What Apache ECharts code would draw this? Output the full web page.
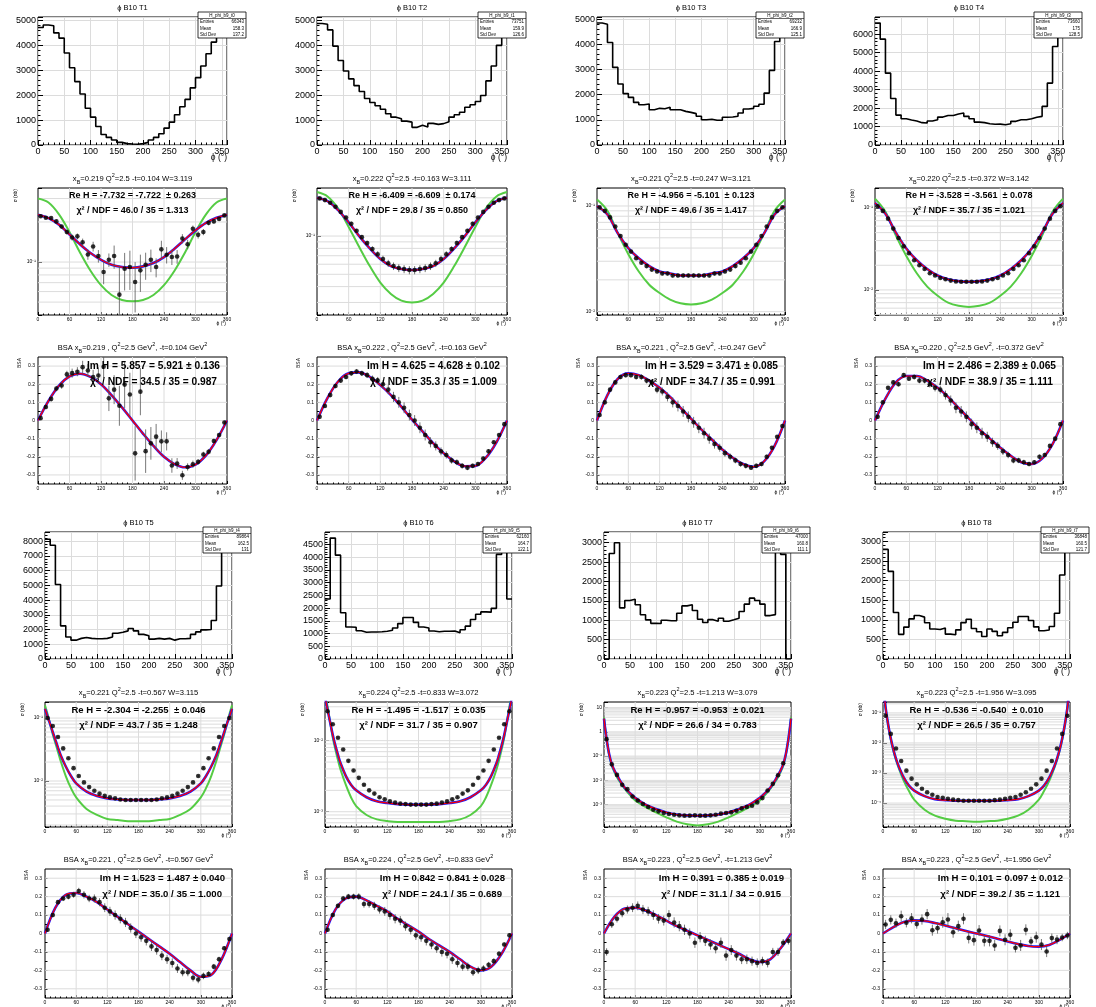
<!DOCTYPE html>
<html><head><meta charset="utf-8">
<script src="https://cdn.jsdelivr.net/npm/echarts@6/dist/echarts.min.js"></script>
<style>html,body{margin:0;padding:0;background:#fff}#c{width:1096px;height:1007px}</style>
</head><body><div id="c"></div>
<script>
// ---------------- DATA ----------------
const EDGES = [0,10,20,30,40,50,60,70,80,90,100,110,120,130,140,150,160,170,180,190,200,210,220,230,240,250,260,270,280,290,300,310,320,330,340,350];
const CENTERS = [5,15,25,35,45,55,65,75,85,95,105,115,125,135,145,155,165,175,185,195,205,215,225,235,245,255,265,275,285,295,305,315,325,335,345,355];
const C20 = [0,20,40,60,80,100,120,140,160,180,200,220,240,260,280,300,320,340,360];
const CEDGE = [0,2,5,10,15,20,25,30,40,50,60,80,100,120,140,160,180,200,220,240,260,280,300,310,320,330,335,340,345,350,355,358,360];

// histograms (counts per 10 deg bin)
const H_T1 = [4730,4830,4800,4510,4300,3700,3110,2550,2050,1480,1120,745,425,305,200,105,55,40,30,55,105,200,305,450,680,920,1220,1540,1835,2300,2710,3180,3670,4140,4500,4900];
const H_T2 = [4890,4860,4630,3980,3400,2980,2660,2390,2150,1870,1710,1580,1440,1260,1120,1060,960,920,710,790,720,870,830,860,940,1120,1220,1320,1520,1620,1750,1990,2580,3180,4010,4850];
const H_T3 = [4840,4790,4070,3080,2420,2040,1890,1690,1600,1630,1400,1455,1440,1495,1400,1400,1335,1295,1245,1140,1005,1020,980,980,1100,1110,1140,1270,1430,1455,1535,1615,2060,2960,4110,4830];
const H_T4 = [6600,5730,3890,2520,1620,1420,1350,1300,1210,1190,1300,1370,1510,1600,1600,1680,1730,1550,1420,1240,1210,1150,1120,1130,1100,1150,1280,1370,1370,1420,1500,1550,2090,3350,5330,6400];
const H_T5 = [8130,7720,5060,2250,1490,1280,1400,1460,1400,1370,1370,1400,1490,1750,1820,1910,2070,1910,1670,1580,1350,1400,1350,1400,1280,1370,1370,1400,1670,1840,1980,2000,2610,4950,8200,8000];
const H_T6 = [2360,4750,4080,1815,1260,1245,1110,1050,1060,1060,1070,1090,1130,1220,1390,1630,1630,1440,1260,1220,1100,1070,1090,1090,1100,1030,1150,1290,1550,1760,1850,1840,1990,4110,4700,2360];
const H_T7 = [0,2720,3000,1320,1510,1540,1400,1140,1010,920,915,1000,985,990,1180,1370,1400,1250,1025,940,1015,975,1050,975,1010,1050,1225,1415,1570,1510,1415,1120,1145,3120,2700,0];
const H_T8 = [2800,2240,1190,630,815,1025,1110,1070,925,765,755,790,635,620,745,930,1015,780,695,575,765,705,595,680,800,940,1085,1085,985,820,720,740,830,1170,2145,3090];
const H_YMAX = [5150,5150,5080,6930,8620,4990,3276,3245];
const H_YINT = [1000,1000,1000,1000,1000,500,500,500];
const H_TITLES = ['ϕ B10 T1','ϕ B10 T2','ϕ B10 T3','ϕ B10 T4','ϕ B10 T5','ϕ B10 T6','ϕ B10 T7','ϕ B10 T8'];
const ST_NAME = ['H_phi_b9_t0','H_phi_b9_t1','H_phi_b9_t2','H_phi_b9_t3','H_phi_b9_t4','H_phi_b9_t5','H_phi_b9_t6','H_phi_b9_t7'];
const ST_ENTRIES = ['66343','73751','69232','73660','89864','62160','47000','36848'];
const ST_MEAN = ['158.3','159.9','166.9','175','162.5','164.7','160.8','160.5'];
const ST_STD = ['137.2','126.6','125.1','128.5','131','122.1','111.1','121.7'];

// cross sections (nb), 10-deg bins
const XS1 = [0.221,0.215,0.214,0.202,0.185,0.168,0.153,0.156,0.141,0.114,0.131,0.111,0.0841,0.104,0.111,0.0569,0.0891,0.0917,0.0708,0.0866,0.0955,0.104,0.0917,0.1245,0.1135,0.109,0.110,0.150,0.136,0.178,0.160,0.168,0.197,0.202,0.211,0.224];
const XS1_ERR = [0.005,0.005,0.005,0.006,0.006,0.007,0.008,0.008,0.009,0.010,0.011,0.012,0.016,0.012,0.022,0.037,0.028,0.030,0.029,0.027,0.022,0.020,0.015,0.020,0.016,0.014,0.013,0.012,0.011,0.010,0.010,0.009,0.008,0.007,0.006,0.006];
const XS1_FIT = [0.227,0.214,0.191,0.161,0.136,0.117,0.104,0.0955,0.0917,0.0906,0.0928,0.0983,0.109,0.126,0.148,0.173,0.197,0.215,0.227];
const XS1_BH = [0.300,0.280,0.228,0.168,0.118,0.0860,0.0670,0.0565,0.0518,0.0507,0.0518,0.0565,0.0670,0.0860,0.118,0.168,0.228,0.280,0.300];
const XS2 = [0.198,0.192,0.183,0.170,0.155,0.140,0.125,0.110,0.098,0.088,0.079,0.072,0.066,0.061,0.058,0.056,0.055,0.054,0.054,0.055,0.056,0.058,0.061,0.066,0.072,0.079,0.088,0.098,0.110,0.125,0.140,0.155,0.170,0.183,0.192,0.198];
const XS2_ERR = [0.005,0.005,0.005,0.005,0.005,0.005,0.005,0.004,0.004,0.004,0.004,0.004,0.004,0.004,0.004,0.004,0.004,0.004,0.004,0.004,0.004,0.004,0.004,0.004,0.004,0.004,0.004,0.004,0.004,0.005,0.005,0.005,0.005,0.005,0.005,0.005];
const XS2_FIT = [0.200,0.188,0.160,0.128,0.100,0.080,0.066,0.058,0.055,0.054,0.055,0.058,0.066,0.080,0.100,0.128,0.160,0.188,0.200];
const XS2_BH = [0.222,0.205,0.165,0.118,0.082,0.058,0.043,0.035,0.031,0.030,0.031,0.035,0.043,0.058,0.082,0.118,0.165,0.205,0.222];
const XS3 = [0.097,0.090,0.078,0.064,0.052,0.043,0.037,0.032,0.029,0.027,0.025,0.024,0.023,0.023,0.022,0.022,0.022,0.022,0.022,0.022,0.022,0.022,0.023,0.023,0.024,0.025,0.027,0.029,0.032,0.037,0.043,0.052,0.064,0.078,0.090,0.097];
const XS3_ERR = [0.003,0.003,0.002,0.002,0.002,0.0015,0.0012,0.001,0.001,0.001,0.001,0.001,0.001,0.001,0.001,0.001,0.001,0.001,0.001,0.001,0.001,0.001,0.001,0.001,0.001,0.001,0.001,0.001,0.001,0.0012,0.0015,0.002,0.002,0.002,0.003,0.003];
const XS3_FIT = [0.100,0.083,0.055,0.040,0.032,0.027,0.024,0.023,0.022,0.022,0.022,0.023,0.024,0.027,0.032,0.040,0.055,0.083,0.100];
const XS3_BH = [0.115,0.090,0.055,0.035,0.024,0.018,0.015,0.013,0.012,0.0117,0.012,0.013,0.015,0.018,0.024,0.035,0.055,0.090,0.115];
const XS4 = [0.105,0.092,0.074,0.056,0.043,0.034,0.028,0.023,0.020,0.018,0.016,0.015,0.014,0.0135,0.013,0.0127,0.0126,0.0126,0.0126,0.0126,0.0127,0.013,0.0135,0.014,0.015,0.016,0.018,0.020,0.023,0.028,0.034,0.043,0.056,0.074,0.092,0.105];
const XS4_ERR = [0.003,0.003,0.002,0.002,0.0015,0.001,0.001,0.0008,0.0007,0.0006,0.0005,0.0005,0.0005,0.0005,0.0005,0.0005,0.0005,0.0005,0.0005,0.0005,0.0005,0.0005,0.0005,0.0005,0.0005,0.0005,0.0006,0.0007,0.0008,0.001,0.001,0.0015,0.002,0.002,0.003,0.003];
const XS4_FIT = [0.115,0.085,0.050,0.032,0.023,0.018,0.015,0.0135,0.0128,0.0126,0.0128,0.0135,0.015,0.018,0.023,0.032,0.050,0.085,0.115];
const XS4_BH = [0.130,0.090,0.046,0.026,0.016,0.011,0.0085,0.0070,0.0064,0.0062,0.0064,0.0070,0.0085,0.011,0.016,0.026,0.046,0.090,0.130];
const XS5 = [0.100,0.075,0.050,0.033,0.023,0.016,0.012,0.0095,0.0080,0.0070,0.0063,0.0058,0.0055,0.0053,0.0051,0.0050,0.0050,0.0050,0.0050,0.0050,0.0050,0.0051,0.0053,0.0055,0.0058,0.0063,0.0070,0.0080,0.0095,0.012,0.016,0.023,0.033,0.050,0.075,0.100];
const XS5_ERR = [0.003,0.002,0.0015,0.001,0.0007,0.0005,0.0004,0.0003,0.0003,0.0002,0.0002,0.0002,0.0002,0.0002,0.0002,0.0002,0.0002,0.0002,0.0002,0.0002,0.0002,0.0002,0.0002,0.0002,0.0002,0.0002,0.0002,0.0003,0.0003,0.0004,0.0005,0.0007,0.001,0.0015,0.002,0.003];
const XS5_FIT = [0.140,0.125,0.105,0.080,0.060,0.045,0.034,0.026,0.017,0.012,0.0092,0.0068,0.0058,0.0053,0.0051,0.0050,0.0050,0.0050,0.0051,0.0053,0.0058,0.0068,0.0092,0.012,0.017,0.026,0.034,0.045,0.060,0.080,0.105,0.125,0.140];
const XS5_BH = [0.160,0.140,0.115,0.080,0.055,0.040,0.029,0.021,0.012,0.0077,0.0055,0.0036,0.0029,0.0025,0.0024,0.0023,0.0023,0.0023,0.0024,0.0025,0.0029,0.0036,0.0055,0.0077,0.012,0.021,0.029,0.040,0.055,0.080,0.115,0.140,0.160];
const XS6 = [0.026,0.017,0.011,0.0075,0.0052,0.0038,0.0030,0.0024,0.0020,0.0018,0.0016,0.0015,0.0014,0.00135,0.0013,0.00128,0.00126,0.00126,0.00126,0.00126,0.00128,0.0013,0.00135,0.0014,0.0015,0.0016,0.0018,0.0020,0.0024,0.0030,0.0038,0.0052,0.0075,0.011,0.017,0.026];
const XS6_ERR = [0.001,0.0007,0.0004,0.0003,0.0002,0.00015,0.0001,0.0001,0.00008,0.00007,0.00006,0.00006,0.00006,0.00006,0.00006,0.00006,0.00006,0.00006,0.00006,0.00006,0.00006,0.00006,0.00006,0.00006,0.00006,0.00006,0.00007,0.00008,0.0001,0.0001,0.00015,0.0002,0.0003,0.0004,0.0007,0.001];
const XS6_FIT = [0.045,0.035,0.027,0.018,0.012,0.0085,0.0063,0.0048,0.0032,0.0024,0.0020,0.0016,0.0014,0.00133,0.00128,0.00126,0.00126,0.00126,0.00128,0.00133,0.0014,0.0016,0.0020,0.0024,0.0032,0.0048,0.0063,0.0085,0.012,0.018,0.027,0.035,0.045];
const XS6_BH = [0.050,0.040,0.030,0.018,0.011,0.0075,0.0053,0.0039,0.0024,0.0016,0.0012,0.00090,0.00078,0.00074,0.00072,0.00072,0.00072,0.00072,0.00072,0.00074,0.00078,0.00090,0.0012,0.0016,0.0024,0.0039,0.0053,0.0075,0.011,0.018,0.030,0.040,0.050];
const XS7 = [0.50,0.0459,0.0168,0.00654,0.00435,0.00218,0.00149,0.00106,0.000796,0.000619,0.000530,0.000452,0.000411,0.000386,0.000363,0.000352,0.000352,0.000363,0.000352,0.000352,0.000363,0.000386,0.000425,0.000452,0.000482,0.000564,0.000702,0.000796,0.000903,0.00124,0.00186,0.00384,0.00719,0.0163,0.0505,null];
const XS7_ERR = [0.02,0.002,0.0007,0.0003,0.0002,0.0001,0.00007,0.00005,0.00004,0.00003,0.000025,0.000022,0.00002,0.00002,0.00002,0.00002,0.00002,0.00002,0.00002,0.00002,0.00002,0.00002,0.00002,0.000022,0.000024,0.000027,0.000033,0.000038,0.000043,0.00006,0.00009,0.00018,0.00034,0.0008,0.0025,null];
const XS7_FIT = [3.5,1.5,0.5,0.12,0.046,0.026,0.0168,0.0105,0.0050,0.0030,0.0019,0.00100,0.00066,0.00048,0.00039,0.00036,0.00035,0.00036,0.00039,0.00048,0.00066,0.00100,0.0019,0.0030,0.0050,0.0105,0.0168,0.026,0.046,0.12,0.5,1.5,3.5];
const XS7_BH = [4.0,1.6,0.5,0.11,0.040,0.022,0.0135,0.0090,0.0045,0.0025,0.0015,0.00080,0.00048,0.00030,0.00020,0.000155,0.00014,0.000155,0.00020,0.00030,0.00048,0.00080,0.0015,0.0025,0.0045,0.0090,0.0135,0.022,0.040,0.11,0.5,1.6,4.0];
const XS8 = [0.080,0.020,0.0065,0.0025,0.0012,0.00065,0.00042,0.00030,0.00023,0.00019,0.00016,0.00015,0.00014,0.00013,0.000125,0.00012,0.00012,0.00012,0.00012,0.00012,0.00012,0.000125,0.00013,0.00014,0.00015,0.00016,0.00019,0.00023,0.00030,0.00042,0.00065,0.0012,0.0025,0.0065,0.020,0.080];
const XS8_ERR = [0.003,0.0008,0.0003,0.0001,0.00005,0.00003,0.00002,0.000012,0.00001,0.000008,0.000007,0.000006,0.000006,0.000006,0.000005,0.000005,0.000005,0.000005,0.000005,0.000005,0.000005,0.000005,0.000006,0.000006,0.000006,0.000007,0.000008,0.00001,0.000012,0.00002,0.00003,0.00005,0.0001,0.0003,0.0008,0.003];
const XS8_FIT = [1.0,0.5,0.15,0.04,0.014,0.006,0.003,0.0017,0.0007,0.00038,0.00026,0.00017,0.000135,0.000125,0.00012,0.00012,0.00012,0.00012,0.00012,0.000125,0.000135,0.00017,0.00026,0.00038,0.0007,0.0017,0.003,0.006,0.014,0.04,0.15,0.5,1.0];
const XS8_BH = [1.2,0.55,0.15,0.038,0.013,0.0055,0.0027,0.0015,0.00055,0.00025,0.00013,0.00006,0.000038,0.00003,0.000026,0.000025,0.000024,0.000025,0.000026,0.00003,0.000038,0.00006,0.00013,0.00025,0.00055,0.0015,0.0027,0.0055,0.013,0.038,0.15,0.55,1.2];
const XS_YMIN = [0.040,0.0239,0.0093,0.00495,0.00186,0.00061,0.00012,0.000016];
const XS_YMAX = [0.360,0.239,0.148,0.175,0.18,0.035,17,0.23];

// beam spin asymmetries
const BSA1 = [0.013,0.074,0.119,0.176,0.193,0.254,0.261,0.269,0.294,0.276,0.239,0.248,0.296,0.122,0.170,0.081,0.198,0.143,-0.181,0.159,-0.169,-0.126,-0.089,-0.115,-0.115,-0.248,-0.237,-0.302,-0.256,-0.241,-0.228,-0.187,-0.172,-0.113,-0.080,-0.011];
const BSA1_ERR = [0.010,0.012,0.015,0.015,0.018,0.020,0.025,0.025,0.035,0.035,0.040,0.045,0.060,0.070,0.080,0.110,0.130,0.120,0.150,0.130,0.120,0.090,0.070,0.060,0.050,0.040,0.030,0.025,0.020,0.020,0.015,0.015,0.015,0.012,0.010,0.010];
const BSA1_FIT = [0,0.108,0.192,0.243,0.258,0.240,0.200,0.140,0.072,0,-0.072,-0.140,-0.200,-0.240,-0.258,-0.243,-0.192,-0.108,0];
const BSA2 = [0.02,0.08,0.14,0.19,0.22,0.24,0.26,0.27,0.26,0.25,0.23,0.22,0.20,0.17,0.13,0.10,0.07,0.03,0.00,-0.04,-0.08,-0.12,-0.14,-0.17,-0.19,-0.22,-0.23,-0.25,-0.26,-0.25,-0.24,-0.21,-0.17,-0.12,-0.08,-0.02];
const BSA2_ERR = [0.01,0.01,0.01,0.012,0.012,0.012,0.012,0.014,0.015,0.016,0.018,0.02,0.022,0.025,0.028,0.03,0.03,0.03,0.03,0.03,0.03,0.028,0.025,0.022,0.02,0.018,0.016,0.015,0.014,0.012,0.012,0.012,0.012,0.01,0.01,0.01];
const BSA2_FIT = [0,0.125,0.215,0.260,0.265,0.240,0.195,0.140,0.075,0.005,-0.060,-0.125,-0.180,-0.225,-0.252,-0.250,-0.205,-0.120,0];
const BSA3 = [0.03,0.10,0.17,0.21,0.24,0.25,0.25,0.24,0.24,0.22,0.21,0.17,0.16,0.13,0.10,0.08,0.05,0.02,-0.01,-0.04,-0.07,-0.10,-0.13,-0.15,-0.18,-0.20,-0.22,-0.24,-0.25,-0.26,-0.25,-0.24,-0.20,-0.15,-0.09,-0.03];
const BSA3_ERR = [0.01,0.01,0.01,0.012,0.012,0.012,0.012,0.014,0.015,0.016,0.018,0.02,0.022,0.025,0.028,0.03,0.03,0.03,0.03,0.03,0.03,0.028,0.025,0.022,0.02,0.018,0.016,0.015,0.014,0.012,0.012,0.012,0.012,0.01,0.01,0.01];
const BSA3_FIT = [0,0.140,0.230,0.260,0.250,0.220,0.180,0.130,0.070,0.010,-0.050,-0.105,-0.160,-0.205,-0.240,-0.255,-0.225,-0.140,0];
const BSA4 = [0.02,0.10,0.18,0.21,0.20,0.25,0.23,0.24,0.22,0.22,0.20,0.18,0.17,0.14,0.11,0.07,0.05,0.02,-0.02,-0.04,-0.07,-0.09,-0.12,-0.14,-0.17,-0.19,-0.22,-0.22,-0.23,-0.24,-0.23,-0.20,-0.19,-0.14,-0.10,-0.02];
const BSA4_ERR = [0.01,0.01,0.01,0.012,0.012,0.012,0.012,0.014,0.015,0.016,0.018,0.02,0.022,0.025,0.028,0.03,0.03,0.03,0.03,0.03,0.03,0.028,0.025,0.022,0.02,0.018,0.016,0.015,0.014,0.012,0.012,0.012,0.012,0.01,0.01,0.01];
const BSA4_FIT = [0,0.120,0.210,0.245,0.245,0.220,0.180,0.130,0.070,0.010,-0.050,-0.100,-0.150,-0.195,-0.230,-0.240,-0.210,-0.130,0];
const BSA5 = [0.02,0.10,0.17,0.19,0.20,0.21,0.23,0.21,0.19,0.19,0.17,0.14,0.12,0.10,0.08,0.06,0.03,0.00,-0.02,-0.04,-0.07,-0.09,-0.12,-0.14,-0.16,-0.19,-0.21,-0.21,-0.24,-0.25,-0.23,-0.22,-0.18,-0.14,-0.08,-0.03];
const BSA5_ERR = [0.012,0.012,0.012,0.014,0.015,0.016,0.018,0.02,0.02,0.022,0.022,0.024,0.025,0.025,0.025,0.025,0.025,0.025,0.025,0.025,0.025,0.025,0.025,0.025,0.025,0.024,0.022,0.022,0.02,0.02,0.018,0.016,0.015,0.014,0.012,0.012];
const BSA5_FIT = [0,0.140,0.210,0.220,0.200,0.170,0.130,0.090,0.050,0.010,-0.030,-0.070,-0.110,-0.155,-0.200,-0.235,-0.225,-0.140,0];
const BSA6 = [0.02,0.10,0.15,0.19,0.20,0.20,0.20,0.16,0.16,0.15,0.13,0.12,0.10,0.08,0.07,0.04,0.02,-0.01,-0.02,-0.04,-0.06,-0.08,-0.10,-0.11,-0.14,-0.16,-0.18,-0.18,-0.21,-0.20,-0.19,-0.17,-0.15,-0.11,-0.06,-0.01];
const BSA6_ERR = [0.012,0.012,0.012,0.014,0.015,0.016,0.018,0.02,0.02,0.022,0.022,0.024,0.025,0.025,0.025,0.025,0.025,0.025,0.025,0.025,0.025,0.025,0.025,0.025,0.025,0.024,0.022,0.022,0.02,0.02,0.018,0.016,0.015,0.014,0.012,0.012];
const BSA6_FIT = [0,0.130,0.190,0.200,0.180,0.150,0.120,0.080,0.045,0.010,-0.030,-0.065,-0.100,-0.140,-0.180,-0.200,-0.180,-0.110,0];
const BSA7 = [-0.10,0.05,0.08,0.11,0.13,0.14,0.15,0.13,0.12,0.10,0.08,0.07,0.10,0.06,0.04,0.02,0.00,-0.05,-0.02,-0.04,-0.06,-0.08,-0.05,-0.12,-0.09,-0.12,-0.14,-0.14,-0.15,-0.16,-0.15,-0.16,-0.10,-0.10,-0.05,-0.04];
const BSA7_ERR = [0.02,0.02,0.02,0.022,0.022,0.024,0.024,0.025,0.025,0.026,0.026,0.027,0.027,0.028,0.028,0.028,0.028,0.028,0.028,0.028,0.028,0.028,0.028,0.028,0.027,0.027,0.026,0.026,0.025,0.025,0.024,0.024,0.022,0.022,0.02,0.02];
const BSA7_FIT = [0,0.090,0.135,0.140,0.125,0.100,0.070,0.040,0.015,-0.010,-0.035,-0.060,-0.085,-0.110,-0.140,-0.155,-0.140,-0.080,0];
const BSA8 = [0.049,0.074,0.056,0.094,0.058,0.083,0.051,0.076,0.105,0.018,0.029,0.061,0.076,0.007,0.040,0.080,-0.024,-0.036,0.016,-0.040,-0.040,-0.065,0.014,-0.034,-0.007,-0.078,-0.065,0.020,-0.043,-0.020,-0.060,-0.098,-0.025,-0.033,-0.022,-0.011];
const BSA8_ERR = [0.025,0.025,0.025,0.030,0.025,0.028,0.025,0.028,0.028,0.030,0.030,0.030,0.035,0.030,0.030,0.030,0.030,0.030,0.030,0.030,0.030,0.030,0.030,0.030,0.030,0.025,0.030,0.030,0.025,0.030,0.030,0.030,0.025,0.025,0.020,0.020];
const BSA8_FIT = [0,0.035,0.062,0.071,0.068,0.057,0.043,0.028,0.013,0,-0.013,-0.028,-0.043,-0.057,-0.068,-0.071,-0.062,-0.035,0];

const XB = ['0.219','0.222','0.221','0.220','0.221','0.224','0.223','0.223'];
const MT = ['0.104','0.163','0.247','0.372','0.567','0.833','1.213','1.956'];
const WW = ['3.119','3.111','3.121','3.142','3.115','3.072','3.079','3.095'];
const RE_TXT = ['Re H = -7.732 = -7.722  ± 0.263','Re H = -6.409 = -6.609  ± 0.174','Re H = -4.956 = -5.101  ± 0.123','Re H = -3.528 = -3.561  ± 0.078','Re H = -2.304 = -2.255  ± 0.046','Re H = -1.495 = -1.517  ± 0.035','Re H = -0.957 = -0.953  ± 0.021','Re H = -0.536 = -0.540  ± 0.010'];
const RE_CHI = ['χ² / NDF = 46.0 / 35 = 1.313','χ² / NDF = 29.8 / 35 = 0.850','χ² / NDF = 49.6 / 35 = 1.417','χ² / NDF = 35.7 / 35 = 1.021','χ² / NDF = 43.7 / 35 = 1.248','χ² / NDF = 31.7 / 35 = 0.907','χ² / NDF = 26.6 / 34 = 0.783','χ² / NDF = 26.5 / 35 = 0.757'];
const IM_TXT = ['Im H = 5.857 = 5.921 ± 0.136','Im H = 4.625 = 4.628 ± 0.102','Im H = 3.529 = 3.471 ± 0.085','Im H = 2.486 = 2.389 ± 0.065','Im H = 1.523 = 1.487 ± 0.040','Im H = 0.842 = 0.841 ± 0.028','Im H = 0.391 = 0.385 ± 0.019','Im H = 0.101 = 0.097 ± 0.012'];
const IM_CHI = ['χ² / NDF = 34.5 / 35 = 0.987','χ² / NDF = 35.3 / 35 = 1.009','χ² / NDF = 34.7 / 35 = 0.991','χ² / NDF = 38.9 / 35 = 1.111','χ² / NDF = 35.0 / 35 = 1.000','χ² / NDF = 24.1 / 35 = 0.689','χ² / NDF = 31.1 / 34 = 0.915','χ² / NDF = 39.2 / 35 = 1.121'];

// ---------------- LAYOUT ----------------
const FONT = '"Liberation Sans", Arial, Helvetica, sans-serif';
const COLS_A = [[38,227],[317,507],[597,785],[875,1063]];
const COLS_B = [[45,232],[325,512],[604,791],[883,1070]];
const ROWS = [[17,145],[188,315],[357,484],[532,659],[702,827],[869,998]];
const GRIDC = '#dcdcdc';

const option = {animation:false, backgroundColor:'#fff', grid:[], xAxis:[], yAxis:[], series:[], graphic:[]};

function box(col,row){ const c=(row<3?COLS_A:COLS_B)[col]; const r=ROWS[row]; return {l:c[0],r:c[1],t:r[0],b:r[1]}; }
function addGrid(B){ const i=option.grid.length; option.grid.push({left:B.l,top:B.t,width:B.r-B.l,height:B.b-B.t,show:true,borderColor:'#000',borderWidth:1,backgroundColor:'#fff'}); return i; }
function txt(x,y,text,size,opts){ opts=opts||{}; option.graphic.push({type:'text',x:x,y:y,rotation:opts.rot||0,z:50,silent:true,style:{text:text,fontSize:size,fontFamily:FONT,fontWeight:opts.bold?'bold':'normal',fill:'#000',align:opts.align||'center',verticalAlign:opts.va||'middle',rich:opts.rich}}); }
const SUPD = {'-':'⁻','0':'⁰','1':'¹','2':'²','3':'³','4':'⁴','5':'⁵','6':'⁶','7':'⁷','8':'⁸','9':'⁹'};
function logLabel(v){ const e=Math.round(Math.log10(v)); if(Math.abs(v/Math.pow(10,e)-1)>1e-6) return ''; if(e===0) return '1'; if(e===1) return '10'; return '10'+String(e).split('').map(c=>SUPD[c]).join(''); }
function richStyles(fs){ return {t:{fontSize:fs,fontFamily:FONT,fill:'#000',lineHeight:fs+4,verticalAlign:'middle'},s:{fontSize:fs*0.72,fontFamily:FONT,fill:'#000',lineHeight:fs*0.72,verticalAlign:'bottom'},p:{fontSize:fs*0.72,fontFamily:FONT,fill:'#000',lineHeight:fs*0.72,verticalAlign:'top'}}; }

function gridLines(gi, hv, vv){
  const data=[]; hv.forEach(v=>data.push([180,v,0])); vv.forEach(v=>data.push([v,hv[0],1]));
  option.series.push({type:'custom',xAxisIndex:gi,yAxisIndex:gi,silent:true,z:1,clip:true,data:data,
    renderItem:function(p,api){ const cs=p.coordSys; const k=api.value(2);
      if(k===0){ const y=api.coord([api.value(0),api.value(1)])[1]; return {type:'line',shape:{x1:cs.x,y1:y,x2:cs.x+cs.width,y2:y},style:{stroke:GRIDC,lineWidth:1}}; }
      const x=api.coord([api.value(0),api.value(1)])[0]; return {type:'line',shape:{x1:x,y1:cs.y,x2:x,y2:cs.y+cs.height},style:{stroke:GRIDC,lineWidth:1}}; }});
}

function plainNum(v){ return String(Math.round(v)); }

function histPanel(idx,col,row,counts){
  const B=box(col,row); const gi=addGrid(B);
  option.xAxis.push({gridIndex:gi,type:'value',min:0,max:360,interval:50,axisLine:{show:false,onZero:false},
    axisTick:{inside:true,length:5,lineStyle:{color:'#000'}},minorTick:{show:true,splitNumber:5,length:2.5,lineStyle:{color:'#000'}},
    axisLabel:{fontSize:9,color:'#000',fontFamily:FONT,margin:2,showMaxLabel:false,formatter:plainNum},splitLine:{show:true,lineStyle:{color:GRIDC}}});
  option.yAxis.push({gridIndex:gi,type:'value',min:0,max:H_YMAX[idx],interval:H_YINT[idx],axisLine:{show:false,onZero:false},
    axisTick:{inside:true,length:5,lineStyle:{color:'#000'}},minorTick:{show:true,splitNumber:5,length:2.5,lineStyle:{color:'#000'}},
    axisLabel:{fontSize:9,color:'#000',fontFamily:FONT,margin:2,showMaxLabel:false,formatter:plainNum},splitLine:{show:true,lineStyle:{color:GRIDC}}});
  const data=EDGES.map((e,i)=>[e,counts[i]]); data.push([360,counts[counts.length-1]]);
  option.series.push({type:'line',xAxisIndex:gi,yAxisIndex:gi,step:'end',data:data,symbol:'none',silent:true,z:5,lineStyle:{color:'#000',width:1.6}});
  txt((B.l+B.r)/2, B.t-9, H_TITLES[idx], 7.5);
  txt(B.r, B.b+13, 'ϕ (°)', 8.5, {align:'right'});
  const w=48,h=26,x=B.r+19-w,y=B.t-5;
  option.graphic.push({type:'rect',z:60,silent:true,shape:{x:x,y:y,width:w,height:h},style:{fill:'#fff',stroke:'#000',lineWidth:0.8}});
  option.graphic.push({type:'line',z:61,silent:true,shape:{x1:x,y1:y+6.5,x2:x+w,y2:y+6.5},style:{stroke:'#000',lineWidth:0.6}});
  option.graphic.push({type:'text',z:62,silent:true,x:x+w/2,y:y+3.3,style:{text:ST_NAME[idx],fontSize:4.5,fontFamily:FONT,fill:'#000',align:'center',verticalAlign:'middle'}});
  const L=[['Entries',ST_ENTRIES[idx]],['Mean',ST_MEAN[idx]],['Std Dev',ST_STD[idx]]];
  L.forEach((p,i)=>{ const yy=y+10+i*6.3;
    option.graphic.push({type:'text',z:62,silent:true,x:x+2,y:yy,style:{text:p[0],fontSize:4.5,fontFamily:FONT,fill:'#000',align:'left',verticalAlign:'middle'}});
    option.graphic.push({type:'text',z:62,silent:true,x:x+w-2,y:yy,style:{text:p[1],fontSize:4.5,fontFamily:FONT,fill:'#000',align:'right',verticalAlign:'middle'}}); });
}

function smallX(gi){
  option.xAxis.push({gridIndex:gi,type:'value',min:0,max:360,interval:60,axisLine:{show:false,onZero:false},
    axisTick:{inside:true,length:3,lineStyle:{color:'#000'}},minorTick:{show:true,splitNumber:6,length:1.5,lineStyle:{color:'#000'}},
    axisLabel:{fontSize:5,color:'#000',fontFamily:FONT,margin:2},splitLine:{show:false}});
}

function pointsSeries(gi,pts,errs,lowClamp){
  const pd=[],ed=[];
  pts.forEach((v,i)=>{ if(v===null||v===undefined) return; pd.push([CENTERS[i],v]);
    let lo=v-errs[i]; if(lowClamp!==null && lo<lowClamp) lo=lowClamp; ed.push([CENTERS[i],lo,v+errs[i]]); });
  option.series.push({type:'custom',xAxisIndex:gi,yAxisIndex:gi,silent:true,z:7,clip:true,data:ed,encode:{x:0,y:[1,2]},
    renderItem:function(p,api){ const a=api.coord([api.value(0),api.value(1)]); const b=api.coord([api.value(0),api.value(2)]);
      return {type:'line',shape:{x1:a[0],y1:a[1],x2:b[0],y2:b[1]},style:{stroke:'#555',lineWidth:0.8}}; }});
  option.series.push({type:'scatter',xAxisIndex:gi,yAxisIndex:gi,silent:true,z:8,data:pd,symbol:'circle',symbolSize:4.6,itemStyle:{color:'#000'}});
}
function curve(gi,xs,ys,color,width,z){
  option.series.push({type:'line',xAxisIndex:gi,yAxisIndex:gi,silent:true,z:z,smooth:0.35,symbol:'none',data:xs.map((x,i)=>[x,ys[i]]),lineStyle:{color:color,width:width}});
}

function xsPanel(idx,col,row,pts,errs,cphi,fit,bh){
  const B=box(col,row); const gi=addGrid(B); smallX(gi);
  const ymin=XS_YMIN[idx], ymax=XS_YMAX[idx];
  option.yAxis.push({gridIndex:gi,type:'log',logBase:10,min:ymin,max:ymax,axisLine:{show:false,onZero:false},
    axisTick:{inside:true,length:4,lineStyle:{color:'#000'}},
    axisLabel:{fontSize:5,color:'#000',fontFamily:FONT,margin:2,formatter:logLabel},splitLine:{show:false}});
  const hv=[]; for(let e=-6;e<=2;e++){ for(let k=1;k<=9;k++){ const v=k*Math.pow(10,e); if(v>ymin*1.001 && v<ymax*0.999) hv.push(v);} }
  gridLines(gi,hv,[60,120,180,240,300]);
  curve(gi,cphi,bh,'#55cc44',2,2);
  curve(gi,cphi,fit,'#1a1aff',2.6,3);
  curve(gi,cphi,fit,'#ff0000',1.3,4);
  pointsSeries(gi,pts,errs,ymin*1.0001);
  const cx=(B.l+B.r)/2;
  txt(cx,B.t-9,'{t|x}{s|B}{t|='+XB[idx]+' Q}{p|2}{t|=2.5 -t='+MT[idx]+' W='+WW[idx]+'}',7.6,{rich:richStyles(7.6)});
  const fs = row===1?9:9.5;
  txt(cx,B.t+8,RE_TXT[idx],fs,{bold:true});
  txt(cx,B.t+23,RE_CHI[idx],fs,{bold:true});
  txt(B.l-22,B.t+1,'σ (nb)',5,{rot:Math.PI/2,align:'right'});
  txt(B.r-1,B.b+9,'ϕ (°)',5,{align:'right'});
}

function bsaPanel(idx,col,row,pts,errs,fit){
  const B=box(col,row); const gi=addGrid(B); smallX(gi);
  option.yAxis.push({gridIndex:gi,type:'value',min:-0.35,max:0.35,interval:0.05,axisLine:{show:false,onZero:false},
    axisTick:{inside:true,length:2.5,lineStyle:{color:'#000'}},
    axisLabel:{fontSize:5,color:'#000',fontFamily:FONT,margin:3,showMinLabel:false,showMaxLabel:false,
      formatter:function(v){ const k=Math.round(v*10); if(Math.abs(v*10-k)>1e-6||Math.abs(k)>3) return ''; return k===0?'0':(k/10).toFixed(1); }},
    splitLine:{show:false}});
  gridLines(gi,[-0.3,-0.2,-0.1,0,0.1,0.2,0.3],[60,120,180,240,300]);
  curve(gi,C20,fit,'#1a1aff',2.6,3);
  curve(gi,C20,fit,'#ff0000',1.3,4);
  pointsSeries(gi,pts,errs,null);
  const cx=(B.l+B.r)/2;
  txt(cx,B.t-9,'{t|BSA x}{s|B}{t|='+XB[idx]+' , Q}{p|2}{t|=2.5 GeV}{p|2}{t|, -t='+MT[idx]+' GeV}{p|2}',7.5,{rich:richStyles(7.5)});
  const fs = row===2?10.2:9.6;
  txt(B.r-7,B.t+9,IM_TXT[idx],fs,{bold:true,align:'right'});
  txt(B.r-10,B.t+25,IM_CHI[idx],fs,{bold:true,align:'right'});
  txt(B.l-18,B.t+1,'BSA',5,{rot:Math.PI/2,align:'right'});
  txt(B.r-1,B.b+9,'ϕ (°)',5,{align:'right'});
}

const HISTS=[H_T1,H_T2,H_T3,H_T4,H_T5,H_T6,H_T7,H_T8];
const XSS=[[XS1,XS1_ERR,XS1_FIT,XS1_BH],[XS2,XS2_ERR,XS2_FIT,XS2_BH],[XS3,XS3_ERR,XS3_FIT,XS3_BH],[XS4,XS4_ERR,XS4_FIT,XS4_BH],
           [XS5,XS5_ERR,XS5_FIT,XS5_BH],[XS6,XS6_ERR,XS6_FIT,XS6_BH],[XS7,XS7_ERR,XS7_FIT,XS7_BH],[XS8,XS8_ERR,XS8_FIT,XS8_BH]];
const BSAS=[[BSA1,BSA1_ERR,BSA1_FIT],[BSA2,BSA2_ERR,BSA2_FIT],[BSA3,BSA3_ERR,BSA3_FIT],[BSA4,BSA4_ERR,BSA4_FIT],
            [BSA5,BSA5_ERR,BSA5_FIT],[BSA6,BSA6_ERR,BSA6_FIT],[BSA7,BSA7_ERR,BSA7_FIT],[BSA8,BSA8_ERR,BSA8_FIT]];
for(let i=0;i<8;i++){
  const col=i%4, half=i<4?0:3;
  histPanel(i,col,half,HISTS[i]);
  const X=XSS[i]; xsPanel(i,col,half+1,X[0],X[1],i<4?C20:CEDGE,X[2],X[3]);
  const S=BSAS[i]; bsaPanel(i,col,half+2,S[0],S[1],S[2]);
}

const chart = echarts.init(document.getElementById('c'),null,{renderer:'canvas'});
chart.setOption(option);
</script></body></html>
